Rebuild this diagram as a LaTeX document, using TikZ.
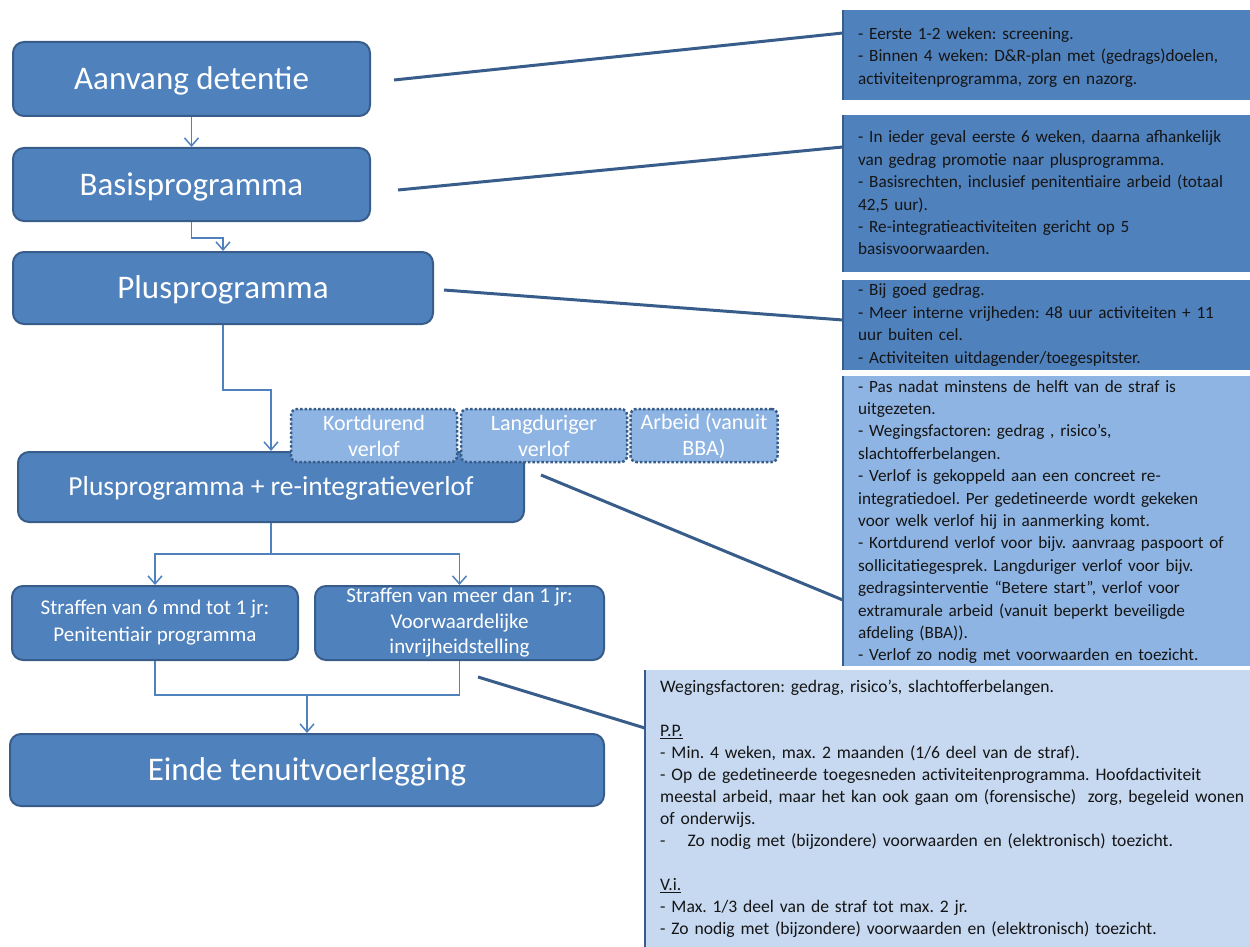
\documentclass[tikz,border=0pt]{standalone}
\usepackage{fontspec}
\setmainfont{Carlito}
\usetikzlibrary{arrows.meta}
\definecolor{mainblue}{HTML}{4F81BD}
\definecolor{darkblue}{HTML}{385D8A}
\definecolor{lightblue}{HTML}{8EB4E3}
\definecolor{paleblue}{HTML}{C6D9F1}
\definecolor{txt}{HTML}{151515}
\frenchspacing
\begin{document}
\begin{tikzpicture}[x=1pt,y=-1pt,
  box/.style={draw=darkblue, line width=2pt, fill=mainblue, rounded corners=11pt,
    text=white, inner sep=0pt},
  bigtxt/.style={font=\fontsize{33}{38}\selectfont, text height=21pt, text depth=0pt},
  dotbox/.style={draw=darkblue, line width=2.5pt, dotted, fill=lightblue, rounded corners=6pt,
    text=white, align=center, inner sep=0pt, minimum height=53pt,
    font=\fontsize{22}{26}\selectfont},
  notebox/.style={inner sep=0pt, draw=none},
  notetxt/.style={anchor=west, inner sep=0pt, text=txt, align=left,
    font=\fontsize{17.2}{22.4}\selectfont},
  edge/.style={darkblue, line width=2pt},
  arr/.style={draw=mainblue, line width=1.5pt, -{Straight Barb[length=8pt,width=14pt,line width=1.5pt]}},
  link/.style={draw=mainblue, line width=1.5pt},
  callout/.style={draw=darkblue, line width=3pt}
]
\useasboundingbox (0,0) rectangle (1250,947);

% main flow boxes
\node[box, bigtxt, minimum width=357pt, minimum height=74pt] (a) at (191.5,79) {Aanvang detentie};
\node[box, bigtxt, minimum width=357pt, minimum height=73pt] (b) at (191.5,184.5) {Basisprogramma};
\node[box, bigtxt, minimum width=420pt, minimum height=72pt] (c) at (223,288) {Plusprogramma};
\node[box, font=\fontsize{27.5}{30}\selectfont, text height=17.6pt, text depth=0pt, minimum width=506pt, minimum height=70pt] (d) at (271,487) {Plusprogramma + re-integratieverlof};
\node[box, align=center, font=\fontsize{21}{27}\selectfont, minimum width=286pt, minimum height=74pt] (e) at (155,623) {Straffen van 6 mnd tot 1 jr:\\Penitentiair programma};
\node[box, align=center, font=\fontsize{21}{25.5}\selectfont, minimum width=289pt, minimum height=74pt] (f) at (459.5,623) {Straffen van meer dan 1 jr:\\Voorwaardelijke\\invrijheidstelling};
\node[box, bigtxt, minimum width=594pt, minimum height=72pt] (g) at (307,770) {Einde tenuitvoerlegging};

% dotted boxes
\node[dotbox, minimum width=166pt] (k1) at (374,435.5) {Kortdurend\\verlof};
\node[dotbox, minimum width=166pt] (k2) at (544,435.5) {Langduriger\\verlof};
\node[dotbox, minimum width=147pt] (k3) at (704,435.5) {Arbeid (vanuit\\BBA)};

% flow arrows
\draw[arr] (a.south) -- (b.north);
\draw[arr] (b.south) -- ++(0,16) -| (c.north);
\draw[arr] (c.south) -- ++(0,65) -| (d.north);
\draw[link] (d.south) -- ++(0,31) coordinate (sp);
\draw[arr] (sp) -| (e.north);
\draw[arr] (sp) -| (f.north);
\draw[link] (e.south) |- (g.north |- 0,695) coordinate (mg);
\draw[link] (f.south) |- (mg);
\draw[arr] (mg) -- (g.north);

% note boxes
\node[notebox, fill=mainblue, minimum width=407pt, minimum height=90pt] (r1) at (1046.5,55) {};
\node[notebox, fill=mainblue, minimum width=407pt, minimum height=157pt] (r2) at (1046.5,193.5) {};
\node[notebox, fill=mainblue, minimum width=407pt, minimum height=90pt] (r3) at (1046.5,325) {};
\node[notebox, fill=lightblue, minimum width=407pt, minimum height=290pt] (r4) at (1046.5,521) {};
\node[notebox, fill=paleblue, minimum width=605pt, minimum height=277pt] (r5) at (947.5,808.5) {};
\foreach \rr in {r1,r2,r3,r4,r5} \draw[edge] (\rr.north west) -- (\rr.south west);

\node[notetxt, text width=420pt] (t1) at (858,57.5) {- Eerste 1-2 weken: screening.\\- Binnen 4 weken: D\&R-plan met (gedrags)doelen,\\activiteitenprogramma, zorg en nazorg.};
\node[notetxt, text width=420pt] (t2) at (858,193) {- In ieder geval eerste 6 weken, daarna afhankelijk\\van gedrag promotie naar plusprogramma.\\- Basisrechten, inclusief penitentiaire arbeid (totaal\\42,5 uur).\\- Re-integratieactiviteiten gericht op 5\\basisvoorwaarden.};
\node[notetxt, text width=420pt] (t3) at (858,325) {- Bij goed gedrag.\\- Meer interne vrijheden: 48 uur activiteiten + 11\\uur buiten cel.\\- Activiteiten uitdagender/toegespitster.};
\node[notetxt, text width=420pt] (t4) at (858,522) {- Pas nadat minstens de helft van de straf is\\uitgezeten.\\- Wegingsfactoren: gedrag , risico’s,\\slachtofferbelangen.\\- Verlof is gekoppeld aan een concreet re-\\integratiedoel. Per gedetineerde wordt gekeken\\voor welk verlof hij in aanmerking komt.\\- Kortdurend verlof voor bijv. aanvraag paspoort of\\sollicitatiegesprek. Langduriger verlof voor bijv.\\gedragsinterventie “Betere start”, verlof voor\\extramurale arbeid (vanuit beperkt beveiligde\\afdeling (BBA)).\\- Verlof zo nodig met voorwaarden en toezicht.};
\node[notetxt, text width=620pt, font=\fontsize{17.6}{22}\selectfont] (t5) at (660,809) {Wegingsfactoren: gedrag, risico’s, slachtofferbelangen.\\[22pt]\underline{P.P.}\\- Min. 4 weken, max. 2 maanden (1/6 deel van de straf).\\- Op de gedetineerde toegesneden activiteitenprogramma. Hoofdactiviteit\\meestal arbeid, maar het kan ook gaan om (forensische)\ \ zorg, begeleid wonen\\of onderwijs.\\-\hspace{22pt}Zo nodig met (bijzondere) voorwaarden en (elektronisch) toezicht.\\[22pt]\underline{V.i.}\\- Max. 1/3 deel van de straf tot max. 2 jr.\\- Zo nodig met (bijzondere) voorwaarden en (elektronisch) toezicht.};

% callout lines
\draw[callout] ([xshift=23pt,yshift=-1pt]a.east) -- ([yshift=22pt]r1.west);
\draw[callout] ([xshift=27pt,yshift=-5.5pt]b.east) -- ([yshift=46.5pt]r2.west);
\draw[callout] ([xshift=10pt,yshift=-2pt]c.east) -- ([yshift=5pt]r3.west);
\draw[callout] ([xshift=16pt,yshift=12pt]d.east) -- ([yshift=-79pt]r4.west);
\draw[callout] ([xshift=18.5pt,yshift=-16pt]f.south) -- ([yshift=80.5pt]r5.west);
\end{tikzpicture}
\end{document}
